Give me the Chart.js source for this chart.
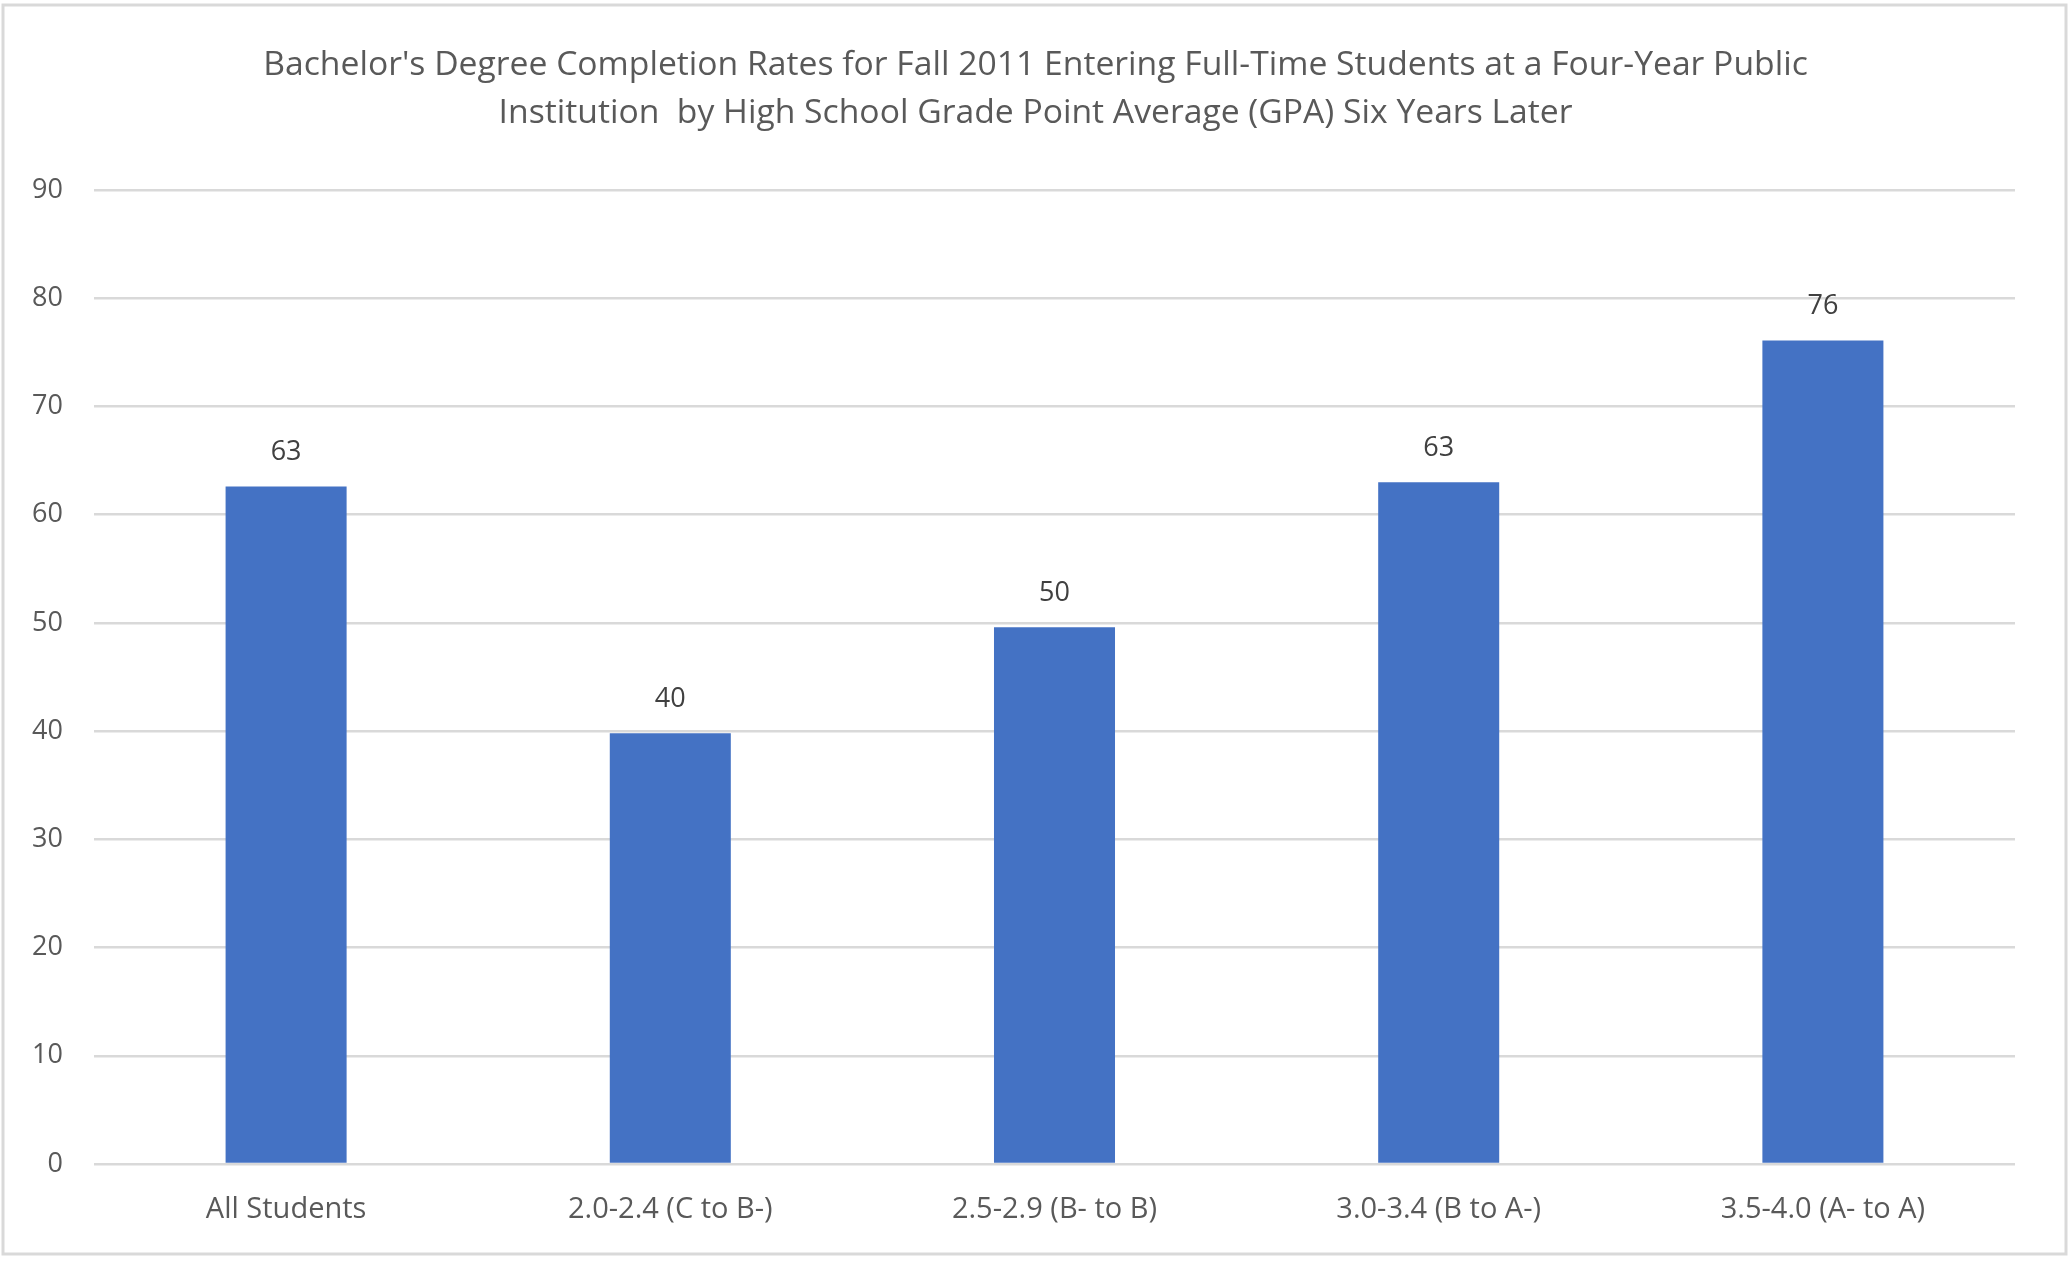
<!DOCTYPE html>
<html>
<head>
<meta charset="utf-8">
<script src="https://cdn.jsdelivr.net/npm/chart.js@4.4.1/dist/chart.umd.min.js"></script>
<style>
  html, body { margin: 0; padding: 0; background: #ffffff; }
  #wrap { position: relative; width: 2071px; height: 1265px; }
</style>
</head>
<body>
<div id="wrap"><canvas id="barchart"></canvas></div>
<script>
// Données
const categories = ['All Students', '2.0-2.4 (C to B-)', '2.5-2.9 (B- to B)', '3.0-3.4 (B to A-)', '3.5-4.0 (A- to A)'];
const completionRates = [62.6, 39.8, 49.6, 63.0, 76.1];
const titleLines = [
    "Bachelor's Degree Completion Rates for Fall 2011 Entering Full-Time Students at a Four-Year Public",
    "Institution  by High School Grade Point Average (GPA) Six Years Later"
];
const yMax = 90;
const yStep = 10;

const FONT = "'Open Sans', 'Noto Sans', sans-serif";

// Cadre gris autour du graphique
const borderPlugin = {
    id: 'cadre',
    beforeDraw(chart) {
        const c = chart.ctx;
        c.save();
        c.fillStyle = '#ffffff';
        c.fillRect(0, 0, chart.width, chart.height);
        c.strokeStyle = '#d9d9d9';
        c.lineWidth = 3;
        c.strokeRect(3, 5, 2063, 1249);
        c.restore();
    }
};

// Titre centré sur toute la largeur (le titre natif se centre sur la zone sans le padding droit)
const titlePlugin = {
    id: 'titre',
    afterDraw(chart) {
        const c = chart.ctx;
        c.save();
        c.font = '33.7px ' + FONT;
        c.fillStyle = '#595959';
        c.textAlign = 'center';
        c.textBaseline = 'middle';
        titleLines.forEach((line, i) => {
            c.fillText(line, chart.width / 2, 65.5 + i * 48);
        });
        c.restore();
    }
};

// Étiquettes de valeur au-dessus des barres
const valueLabels = {
    id: 'valeurs',
    afterDatasetsDraw(chart) {
        const c = chart.ctx;
        const meta = chart.getDatasetMeta(0);
        c.save();
        c.font = '27px ' + FONT;
        c.fillStyle = '#404040';
        c.textAlign = 'center';
        c.textBaseline = 'middle';
        meta.data.forEach((bar, i) => {
            c.fillText(String(Math.round(completionRates[i])), bar.x, bar.y - 34);
        });
        c.restore();
    }
};

const ctx = document.getElementById('barchart');

new Chart(ctx, {
    type: 'bar',
    data: {
        labels: categories,
        datasets: [
            {
                label: 'Completion rate',
                data: completionRates,
                backgroundColor: '#4472c4',
                borderWidth: 0,
                barPercentage: 0.315,
                categoryPercentage: 1
            }
        ]
    },
    options: {
        responsive: true,
        maintainAspectRatio: false,
        animation: false,
        layout: {
            padding: { left: 0, right: 56, top: 190, bottom: 0 }
        },
        scales: {
            x: {
                grid: { display: false, drawTicks: false },
                border: { display: false },
                ticks: {
                    color: '#595959',
                    font: { family: FONT, size: 29 },
                    padding: 28,
                    maxRotation: 0
                },
                afterFit(scale) { scale.height = 101; }
            },
            y: {
                min: 0,
                max: yMax,
                grid: { color: '#d9d9d9', lineWidth: 2.5, drawTicks: false },
                border: { display: false },
                ticks: {
                    stepSize: yStep,
                    color: '#595959',
                    font: { family: FONT, size: 27 },
                    padding: 31
                },
                afterFit(scale) { scale.width = 94; }
            }
        },
        plugins: {
            legend: { display: false },
            tooltip: { enabled: false },
            title: { display: false }
        }
    },
    plugins: [borderPlugin, titlePlugin, valueLabels]
});
</script>
</body>
</html>
